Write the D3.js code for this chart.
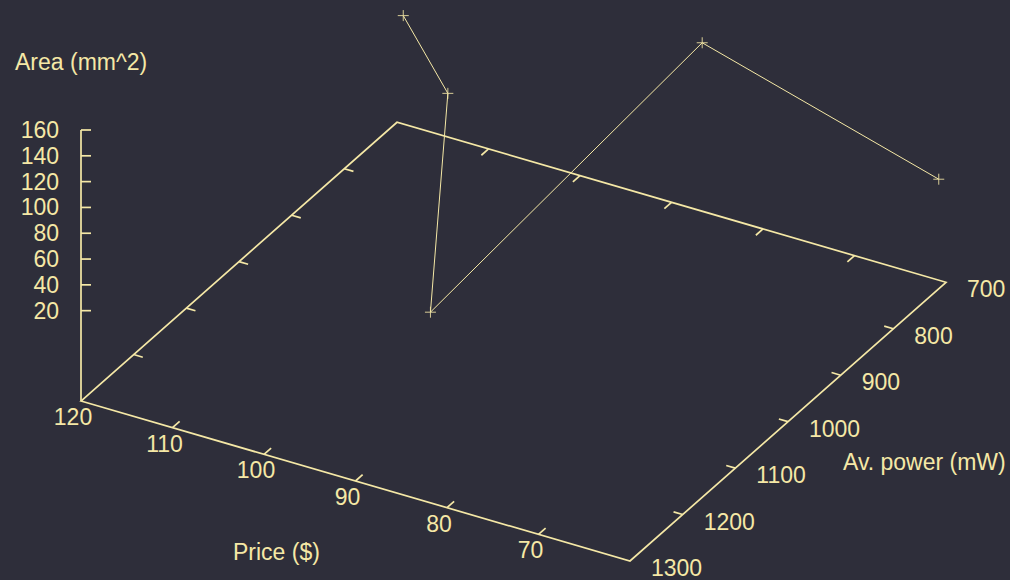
<!DOCTYPE html>
<html>
<head>
<meta charset="utf-8">
<script src="https://cdn.jsdelivr.net/npm/d3@7"></script>
<style>
  html, body { margin: 0; padding: 0; background: #2e2e3a; }
  svg { display: block; }
  text { font-family: "Liberation Sans", Arial, Helvetica, sans-serif; font-size: 23px; fill: #f5e8a6; }
</style>
</head>
<body>
<svg id="chart" width="1010" height="580"></svg>
<script>
// Measurements: price ($), average power (mW), area (mm^2)
const price = [115, 106.5, 82.5, 78.3, 60.1];
const power = [775, 838, 1288, 845, 712];
const area  = [70, 50, 92, 150, 34];

// Tick values
const priceTicks = [120, 110, 100, 90, 80, 70, 60];
const priceTickLabels = [120, 110, 100, 90, 80, 70];
const powerTicks = [700, 800, 900, 1000, 1100, 1200, 1300];
const areaTicks = [20, 40, 60, 80, 100, 120, 140, 160];

const W = 1010, H = 580;
const ink = "#f5e8a6";
const svg = d3.select("#chart");

// Axis ranges; the base plane sits half the z-range below zmin
const priceDomain = [120, 60];
const powerDomain = [1300, 700];
const zMin = 20, zMax = 160, ticsLevel = 0.5;
const zBase = zMin - ticsLevel * (zMax - zMin);

// Scales to unit coordinates on the base plane and to screen height
const u = d3.scaleLinear().domain(priceDomain).range([0, 1]);
const v = d3.scaleLinear().domain(powerDomain).range([0, 1]);
const h = d3.scaleLinear().domain([zBase, zMax]).range([0, 271]);

// Oblique projection of the base plane
const origin = [81, 401];
const ax = [549, 160];      // price axis direction
const bx = [316, -278.7];   // power axis direction

function proj(p, w, z) {
  const a = u(p), b = v(w);
  return [origin[0] + ax[0] * a + bx[0] * b,
          origin[1] + ax[1] * a + bx[1] * b - h(z)];
}

const gAxes = svg.append("g")
  .attr("stroke", ink).attr("stroke-width", 1.7).attr("fill", "none");

// Base plane outline
const corners = [
  proj(120, 1300, zBase), proj(60, 1300, zBase),
  proj(60, 700, zBase), proj(120, 700, zBase)
];
gAxes.append("path").attr("d", d3.line()(corners) + "Z");

// Vertical z axis at the left corner
gAxes.append("line")
  .attr("x1", proj(120, 1300, zBase)[0]).attr("y1", proj(120, 1300, zBase)[1])
  .attr("x2", proj(120, 1300, zMax)[0]).attr("y2", proj(120, 1300, zMax)[1]);

// Unit directions for tick marks
function unit(vec) { const l = Math.hypot(vec[0], vec[1]); return [vec[0] / l, vec[1] / l]; }
const uA = unit(ax), uB = unit(bx);
const tickLen = 9.5;

// Price ticks: front edge (pointing back) and back edge (pointing front)
priceTicks.slice(1, -1).forEach(p => {
  const f = proj(p, 1300, zBase);
  gAxes.append("line").attr("x1", f[0]).attr("y1", f[1])
    .attr("x2", f[0] + uB[0] * tickLen).attr("y2", f[1] + uB[1] * tickLen);
  const b = proj(p, 700, zBase);
  gAxes.append("line").attr("x1", b[0]).attr("y1", b[1])
    .attr("x2", b[0] - uB[0] * tickLen).attr("y2", b[1] - uB[1] * tickLen);
});

// Power ticks: right edge (pointing left) and left edge (pointing right)
powerTicks.slice(1, -1).forEach(w => {
  const r = proj(60, w, zBase);
  gAxes.append("line").attr("x1", r[0]).attr("y1", r[1])
    .attr("x2", r[0] - uA[0] * tickLen).attr("y2", r[1] - uA[1] * tickLen);
  const l = proj(120, w, zBase);
  gAxes.append("line").attr("x1", l[0]).attr("y1", l[1])
    .attr("x2", l[0] + uA[0] * tickLen).attr("y2", l[1] + uA[1] * tickLen);
});

// Area ticks on the z axis
areaTicks.forEach(z => {
  const t = proj(120, 1300, z);
  gAxes.append("line").attr("x1", t[0]).attr("y1", t[1])
    .attr("x2", t[0] + 10).attr("y2", t[1]);
});

// Tick labels
const gLab = svg.append("g");
priceTickLabels.forEach(p => {
  const f = proj(p, 1300, zBase);
  gLab.append("text").attr("x", f[0] - 8).attr("y", f[1] + 16)
    .attr("text-anchor", "middle").attr("dominant-baseline", "central").text(p);
});
powerTicks.forEach(w => {
  const r = proj(60, w, zBase);
  gLab.append("text").attr("x", r[0] + 21).attr("y", r[1] + 7)
    .attr("text-anchor", "start").attr("dominant-baseline", "central").text(w);
});
areaTicks.forEach(z => {
  const t = proj(120, 1300, z);
  gLab.append("text").attr("x", t[0] - 22).attr("y", t[1])
    .attr("text-anchor", "end").attr("dominant-baseline", "central").text(z);
});

// Axis titles
gLab.append("text").attr("x", 15).attr("y", 62)
  .attr("dominant-baseline", "central").text("Area (mm^2)");
gLab.append("text").attr("x", 233).attr("y", 552)
  .attr("dominant-baseline", "central").text("Price ($)");
gLab.append("text").attr("x", 843).attr("y", 462)
  .attr("dominant-baseline", "central").text("Av. power (mW)");

// Data: connected points with plus markers
const pts = price.map((p, i) => proj(p, power[i], area[i]));
svg.append("path")
  .attr("d", d3.line()(pts))
  .attr("fill", "none").attr("stroke", ink).attr("stroke-width", 1);

const gPts = svg.append("g").attr("stroke", ink).attr("stroke-width", 1).attr("opacity", 0.85);
pts.forEach(([x, y]) => {
  gPts.append("line").attr("x1", x - 5.5).attr("y1", y).attr("x2", x + 5.5).attr("y2", y);
  gPts.append("line").attr("x1", x).attr("y1", y - 5.5).attr("x2", x).attr("y2", y + 5.5);
});
</script>
</body>
</html>
